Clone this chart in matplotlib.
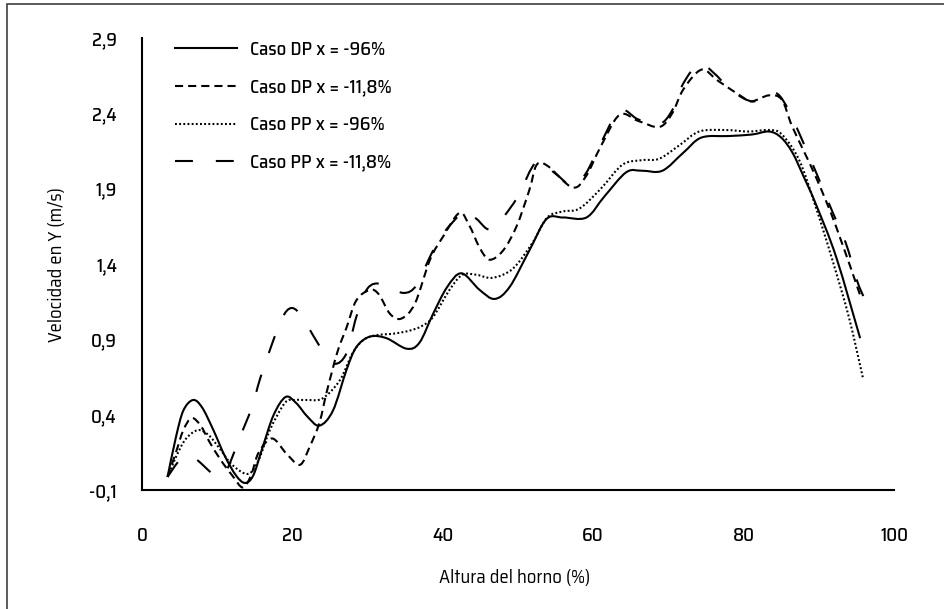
import matplotlib
matplotlib.use('Agg')
import matplotlib.pyplot as plt
from matplotlib.patches import Rectangle, PathPatch
from matplotlib.path import Path
from matplotlib.lines import Line2D
from matplotlib.ticker import FuncFormatter

plt.rcParams['font.family'] = ['Saira SemiCondensed', 'DejaVu Sans']
plt.rcParams['font.weight'] = 'medium'

# Caso DP x = -96%
dp96_x = [3.4, 4.5, 5.5, 6.8, 8.0, 9.5, 11.0, 12.5, 13.7, 14.8, 16.0, 17.5, 19.1, 20.5, 22.0,
          23.6, 25.4, 27.2, 28.5, 30.3, 32.5, 35.2, 36.9, 38.7, 40.6, 42.5, 44.9, 46.9, 48.9,
          51.5, 53.8, 56.0, 59.1, 61.5, 64.4, 66.5, 69.2, 72.0, 74.4, 78.0, 81.1, 83.4, 85.0,
          86.5, 88.0, 89.6, 92.3, 95.5]
dp96_y = [-0.01, 0.25, 0.43, 0.50, 0.45, 0.30, 0.13, 0.00, -0.05, 0.00, 0.18, 0.40, 0.52, 0.48, 0.39,
          0.33, 0.43, 0.70, 0.85, 0.92, 0.91, 0.84, 0.88, 1.07, 1.25, 1.34, 1.23, 1.17, 1.25,
          1.49, 1.70, 1.71, 1.71, 1.85, 2.01, 2.02, 2.02, 2.14, 2.24, 2.25, 2.26, 2.28, 2.24,
          2.14, 1.98, 1.80, 1.45, 0.91]

# Caso DP x = -11,8%
dp118_x = [3.4, 4.5, 5.5, 6.6, 7.8, 9.0, 10.5, 12.0, 13.4, 14.5, 15.5, 17.3, 19.2, 21.0, 22.3,
           23.6, 24.6, 26.0, 27.2, 28.5, 30.3, 31.5, 33.0, 34.5, 36.3, 38.3, 40.0, 42.2, 43.5,
           44.9, 46.2, 48.0, 49.8, 51.5, 52.5, 54.0, 57.2, 59.0, 61.0, 63.5, 66.0, 68.8, 70.5,
           72.0, 74.4, 76.5, 79.8, 81.1, 83.4, 85.1, 86.5, 89.6, 92.3, 95.6]
dp118_y = [-0.01, 0.15, 0.30, 0.38, 0.33, 0.22, 0.10, 0.00, -0.08, 0.00, 0.15, 0.245, 0.145, 0.07, 0.19,
           0.35, 0.56, 0.82, 0.98, 1.16, 1.23, 1.20, 1.07, 1.04, 1.14, 1.43, 1.58, 1.74, 1.66,
           1.51, 1.43, 1.49, 1.65, 1.89, 2.06, 2.05, 1.91, 1.98, 2.18, 2.39, 2.35, 2.31, 2.40,
           2.56, 2.69, 2.62, 2.51, 2.48, 2.52, 2.49, 2.31, 1.98, 1.65, 1.18]

# Caso PP x = -96%
pp96_x = [3.4, 4.5, 5.8, 7.4, 8.8, 10.3, 12.0, 14.1, 15.5, 17.0, 19.0, 20.3, 22.0, 24.0, 26.3,
          28.0, 29.5, 31.2, 33.5, 35.6, 37.2, 38.7, 40.9, 42.6, 44.5, 46.6, 49.3, 51.9, 53.9,
          56.0, 58.2, 61.0, 63.9, 66.5, 68.8, 71.5, 74.1, 77.5, 80.7, 83.4, 85.1, 87.4, 89.6,
          91.8, 94.0, 95.9]
pp96_y = [-0.01, 0.12, 0.24, 0.30, 0.27, 0.18, 0.07, 0.01, 0.10, 0.30, 0.48, 0.50, 0.50, 0.51, 0.63,
          0.81, 0.90, 0.93, 0.94, 0.96, 0.99, 1.05, 1.23, 1.33, 1.33, 1.31, 1.37, 1.54, 1.71,
          1.75, 1.77, 1.90, 2.06, 2.09, 2.10, 2.19, 2.28, 2.29, 2.28, 2.29, 2.26, 2.09, 1.78,
          1.43, 1.05, 0.64]

# Caso PP x = -11,8%
pp118_x = [3.4, 5.0, 6.4, 7.4, 9.4, 10.4, 11.2, 12.0, 13.0, 14.6, 15.7, 17.0, 18.6, 19.9, 21.4,
           22.5, 24.0, 25.6, 27.2, 28.5, 30.0, 31.9, 34.7, 36.5, 38.3, 40.0, 42.9, 44.5, 46.2,
           48.0, 50.0, 52.5, 55.0, 57.2, 59.0, 61.0, 63.5, 66.0, 68.8, 70.5, 72.0, 74.1, 76.0,
           78.0, 80.0, 81.5, 83.0, 84.5, 86.0, 88.0, 89.8, 91.8, 93.6, 95.1, 96.0]
pp118_y = [-0.01, 0.10, 0.13, 0.10, 0.01, -0.01, 0.03, 0.12, 0.25, 0.45, 0.64, 0.83, 1.04, 1.11, 1.05,
           0.95, 0.83, 0.74, 0.81, 1.05, 1.24, 1.27, 1.21, 1.26, 1.45, 1.60, 1.75, 1.70, 1.63,
           1.71, 1.85, 2.08, 2.00, 1.92, 2.00, 2.20, 2.42, 2.36, 2.33, 2.42, 2.60, 2.73, 2.67,
           2.57, 2.50, 2.48, 2.52, 2.53, 2.42, 2.20, 1.99, 1.75, 1.54, 1.29, 1.18]

labels = ['Caso DP x = -96%', 'Caso DP x = -11,8%', 'Caso PP x = -96%', 'Caso PP x = -11,8%']
y_ticks = [-0.1, 0.4, 0.9, 1.4, 1.9, 2.4, 2.9]
x_ticks = [0, 20, 40, 60, 80, 100]

LW = 1.5
FS = 13.5
styles = ['-', (0, (3.9, 2.4)), (0, (0.9, 1.1)), (0, (8.6, 11.0))]


def smooth_path(xs, ys):
    # curva suavizada (bezier cubico) que pasa por todos los puntos
    pts = list(zip(xs, ys))
    n = len(pts)
    verts = [pts[0]]
    codes = [Path.MOVETO]
    for i in range(n - 1):
        p0 = pts[max(i - 1, 0)]
        p1 = pts[i]
        p2 = pts[i + 1]
        p3 = pts[min(i + 2, n - 1)]
        c1 = (p1[0] + (p2[0] - p0[0]) / 6, p1[1] + (p2[1] - p0[1]) / 6)
        c2 = (p2[0] - (p3[0] - p1[0]) / 6, p2[1] - (p3[1] - p1[1]) / 6)
        verts += [c1, c2, p2]
        codes += [Path.CURVE4] * 3
    return Path(verts, codes)


fig = plt.figure(figsize=(9.44, 6.09), dpi=100)
ax = fig.add_axes([0.1504, 0.1946, 0.7966, 0.743])

series = [(dp96_x, dp96_y), (dp118_x, dp118_y), (pp96_x, pp96_y), (pp118_x, pp118_y)]
handles = []
for (xs, ys), ls, lab in zip(series, styles, labels):
    ax.add_patch(PathPatch(smooth_path(xs, ys), fill=False, edgecolor='black', lw=LW,
                           linestyle=ls, capstyle='butt'))
    handles.append(Line2D([], [], color='black', lw=LW, linestyle=ls, label=lab))

ax.set_xlim(0, 100)
ax.set_ylim(-0.1, 2.9)
ax.set_xticks(x_ticks)
ax.set_yticks(y_ticks)
ax.yaxis.set_major_formatter(FuncFormatter(lambda v, p: f'{v:.1f}'.replace('.', ',')))
ax.tick_params(length=0, labelsize=FS)
ax.tick_params(axis='y', pad=18)
ax.tick_params(axis='x', pad=26)

for side in ['top', 'right']:
    ax.spines[side].set_visible(False)
for side in ['left', 'bottom']:
    ax.spines[side].set_linewidth(1.5)

ax.set_xlabel('Altura del horno (%)', fontsize=FS, va='center')
ax.set_ylabel('Velocidad en Y (m/s)', fontsize=FS, va='center')
ax.xaxis.set_label_coords(0.496, -0.193)
ax.yaxis.set_label_coords(-0.113, 0.5)

ax.legend(handles=handles, loc='upper left', bbox_to_anchor=(0.022, 1.031), frameon=False,
          fontsize=FS, handlelength=3.3, handletextpad=0.7, labelspacing=1.05)

# marco exterior de la figura
fig.patches.append(Rectangle((7 / 944, -0.1), 1.2, (605 / 609) + 0.1, transform=fig.transFigure,
                             fill=False, edgecolor='#404040', lw=1.2))

fig.savefig('out.png', dpi=100)
